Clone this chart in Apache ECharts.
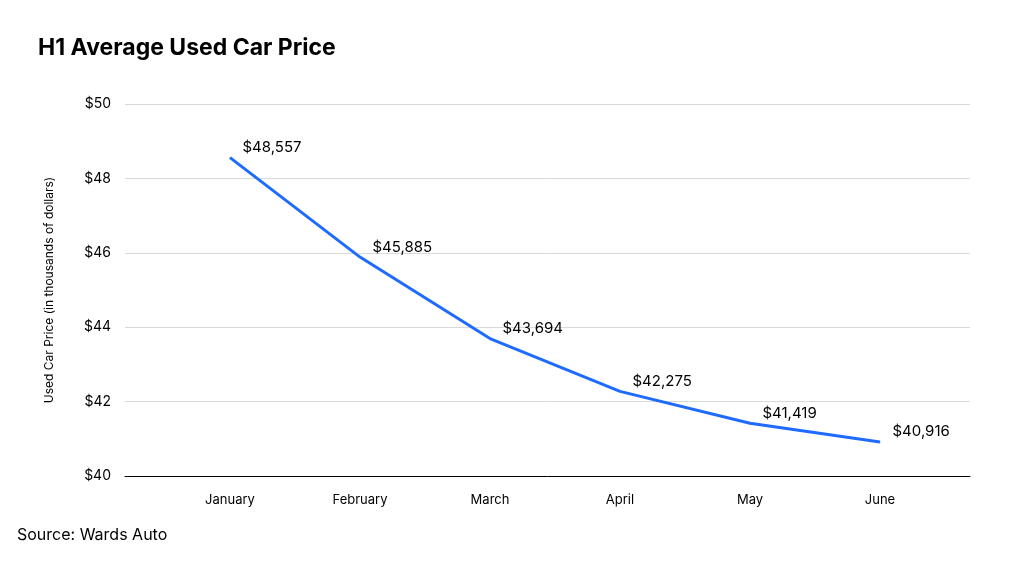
<!DOCTYPE html>
<html><head><meta charset="utf-8">
<script src="https://cdn.jsdelivr.net/npm/echarts@6/dist/echarts.min.js"></script>
<style>html,body{margin:0;padding:0;background:#fff}#c{width:1024px;height:565px}</style>
</head><body><div id="c"></div>
<script>
var months = ['January','February','March','April','May','June'];
var prices = [48557, 45885, 43694, 42275, 41419, 40916];
var yTicks = [40, 42, 44, 46, 48, 50];
var font = 'Inter, "Noto Sans", sans-serif';
var chart = echarts.init(document.getElementById('c'));
chart.setOption({
  animation:false,
  title:{text:'H1 Average Used Car Price',left:33,top:32,textStyle:{fontFamily:font,fontSize:23,fontWeight:'bold',color:'#000'}},
  graphic:[{type:'text',left:17,top:527,style:{text:'Source: Wards Auto',font:'16px '+font,fill:'#000'}}],
  grid:[{left:125,right:54,top:104,bottom:89},{left:165,right:79,top:104,bottom:89}],
  xAxis:[
    {type:'value',gridIndex:0,min:0,max:1,axisLine:{show:true,lineStyle:{color:'#000',width:1}},axisTick:{show:false},axisLabel:{show:false},splitLine:{show:false}},
    {type:'category',gridIndex:1,data:months,boundaryGap:true,axisLine:{show:false},axisTick:{show:false},axisLabel:{margin:18,fontFamily:font,fontSize:13,color:'#000'}}
  ],
  yAxis:[
    {type:'value',gridIndex:0,min:yTicks[0],max:yTicks[yTicks.length-1],interval:2,name:'Used Car Price (in thousands of dollars)',nameLocation:'middle',nameGap:70,nameTextStyle:{fontFamily:font,fontSize:12,color:'#000'},axisLine:{show:false},axisTick:{show:false},axisLabel:{formatter:'${value}',margin:14,fontFamily:font,fontSize:14,color:'#000'},splitLine:{lineStyle:{color:'#d9d9d9'}}},
    {type:'value',gridIndex:1,min:40,max:50,show:false,splitLine:{show:false}}
  ],
  series:[{type:'line',xAxisIndex:1,yAxisIndex:1,data:prices.map(function(v){return v/1000;}),
    symbol:'circle',symbolSize:1,showSymbol:true,lineStyle:{color:'#1f6bff',width:3},itemStyle:{color:'#1f6bff'},
    label:{show:true,position:'right',distance:12,offset:[0,-10],formatter:function(p){return '$'+prices[p.dataIndex].toLocaleString('en-US');},fontFamily:font,fontSize:15,color:'#000'}}]
});
</script></body></html>
